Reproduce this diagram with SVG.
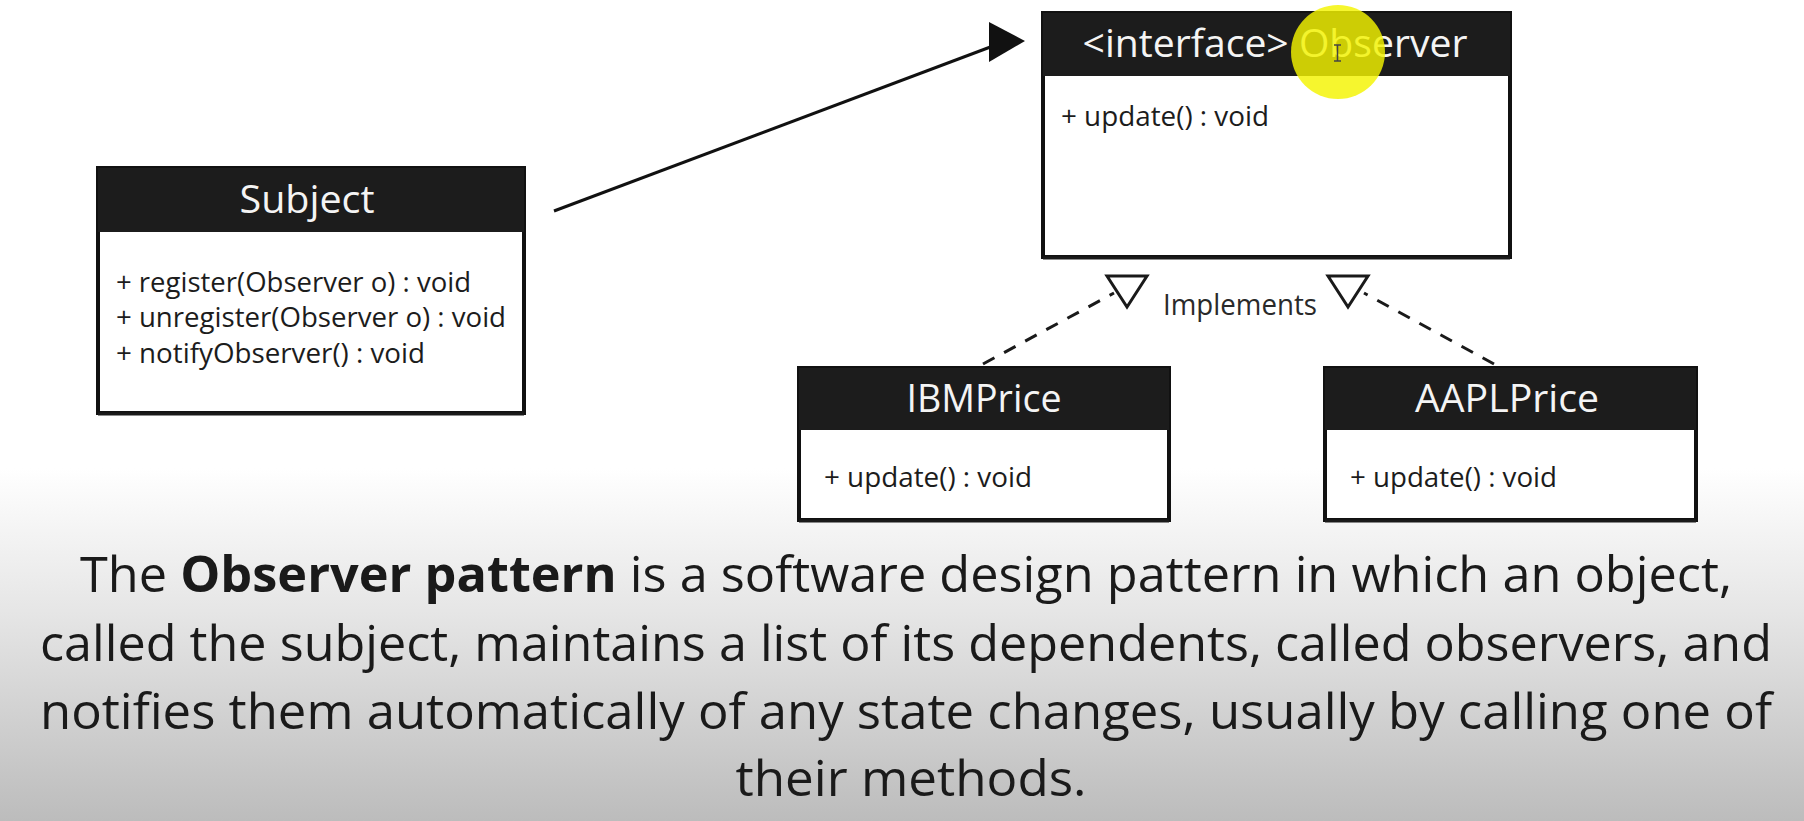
<svg xmlns="http://www.w3.org/2000/svg" width="1804" height="821" viewBox="0 0 1804 821">
<defs>
<linearGradient id="bg" x1="0" y1="0" x2="0" y2="821" gradientUnits="userSpaceOnUse">
<stop offset="0" stop-color="#ffffff"/>
<stop offset="0.57" stop-color="#ffffff"/>
<stop offset="0.75" stop-color="#e5e5e5"/>
<stop offset="1" stop-color="#bcbcbc"/>
</linearGradient>
<style>
text{font-family:"Open Sans","Noto Sans","DejaVu Sans",sans-serif;}
.box{fill:#ffffff;stroke:#111111;stroke-width:4;}
.hdr{fill:#1c1c1c;}
.shadow{stroke:#1a1a1a;stroke-width:3;}
.title{fill:#f4f4f4;font-size:39px;text-anchor:middle;}
.meth{fill:#1c1c1c;font-size:27px;}
.line{stroke:#111111;stroke-width:3;fill:none;}
.dash{stroke:#1a1a1a;stroke-width:3;fill:none;stroke-dasharray:13 11;}
.tri{fill:#ffffff;stroke:#1a1a1a;stroke-width:3;stroke-linejoin:miter;}
.para{fill:#1a1a1a;font-size:50px;text-anchor:middle;}
</style>
</defs>
<rect x="0" y="0" width="1804" height="821" fill="url(#bg)"/>

<g id="connectors">
<line class="line" x1="554" y1="211" x2="993" y2="46"/>
<polygon points="989,22 1025,41 989,62" fill="#111111"/>
<line class="dash" x1="983" y1="364" x2="1114" y2="293"/>
<line class="dash" x1="1494" y1="364" x2="1364" y2="293"/>
<polygon class="tri" points="1107,276 1147,276 1127,307"/>
<polygon class="tri" points="1328,276 1368,276 1348,307"/>
<text x="1163" y="315" font-size="29" fill="#2a2a2a" textLength="154" lengthAdjust="spacingAndGlyphs">Implements</text>
</g>

<g id="subject">
<rect class="box" x="98" y="168" width="426" height="245"/>
<rect class="hdr" x="98" y="168" width="426" height="64"/>
<line class="shadow" x1="98" y1="414" x2="524" y2="414"/>
<text class="title" x="307" y="213" font-size="41" textLength="135" lengthAdjust="spacingAndGlyphs">Subject</text>
<text class="meth" x="116" y="292" textLength="355" lengthAdjust="spacingAndGlyphs">+ register(Observer o) : void</text>
<text class="meth" x="116" y="327" textLength="390" lengthAdjust="spacingAndGlyphs">+ unregister(Observer o) : void</text>
<text class="meth" x="116" y="363" textLength="309" lengthAdjust="spacingAndGlyphs">+ notifyObserver() : void</text>
</g>

<g id="observer">
<rect class="box" x="1043" y="13" width="467" height="244"/>
<rect class="hdr" x="1043" y="13" width="467" height="63"/>
<line class="shadow" x1="1043" y1="258" x2="1510" y2="258"/>
<text class="title" x="1275" y="57" textLength="385" lengthAdjust="spacingAndGlyphs">&lt;interface&gt; Observer</text>
<text class="meth" x="1061" y="126" textLength="208" lengthAdjust="spacingAndGlyphs">+ update() : void</text>
</g>

<g id="ibmprice">
<rect class="box" x="799" y="368" width="370" height="152"/>
<rect class="hdr" x="799" y="368" width="370" height="62"/>
<line class="shadow" x1="799" y1="521" x2="1169" y2="521"/>
<text class="title" x="984" y="412" textLength="155" lengthAdjust="spacingAndGlyphs">IBMPrice</text>
<text class="meth" x="824" y="487" textLength="208" lengthAdjust="spacingAndGlyphs">+ update() : void</text>
</g>

<g id="aaplprice">
<rect class="box" x="1325" y="368" width="371" height="152"/>
<rect class="hdr" x="1325" y="368" width="371" height="62"/>
<line class="shadow" x1="1325" y1="521" x2="1696" y2="521"/>
<text class="title" x="1507" y="412" textLength="184" lengthAdjust="spacingAndGlyphs">AAPLPrice</text>
<text class="meth" x="1350" y="487" textLength="207" lengthAdjust="spacingAndGlyphs">+ update() : void</text>
</g>

<g id="highlight">
<circle cx="1338" cy="52" r="47" fill="#f4f400" fill-opacity="0.82"/>
<path d="M1334,45 h7 M1337.5,45 v16 M1334,61 h7" stroke="#444444" stroke-width="1.5" fill="none"/>
</g>

<g id="caption">
<text class="para" x="906" y="592" textLength="1652" lengthAdjust="spacingAndGlyphs">The <tspan font-weight="bold">Observer pattern</tspan> is a software design pattern in which an object,</text>
<text class="para" x="906" y="661" textLength="1732" lengthAdjust="spacingAndGlyphs">called the subject, maintains a list of its dependents, called observers, and</text>
<text class="para" x="906" y="729" textLength="1732" lengthAdjust="spacingAndGlyphs">notifies them automatically of any state changes, usually by calling one of</text>
<text class="para" x="911" y="796" textLength="351" lengthAdjust="spacingAndGlyphs">their methods.</text>
</g>
</svg>
